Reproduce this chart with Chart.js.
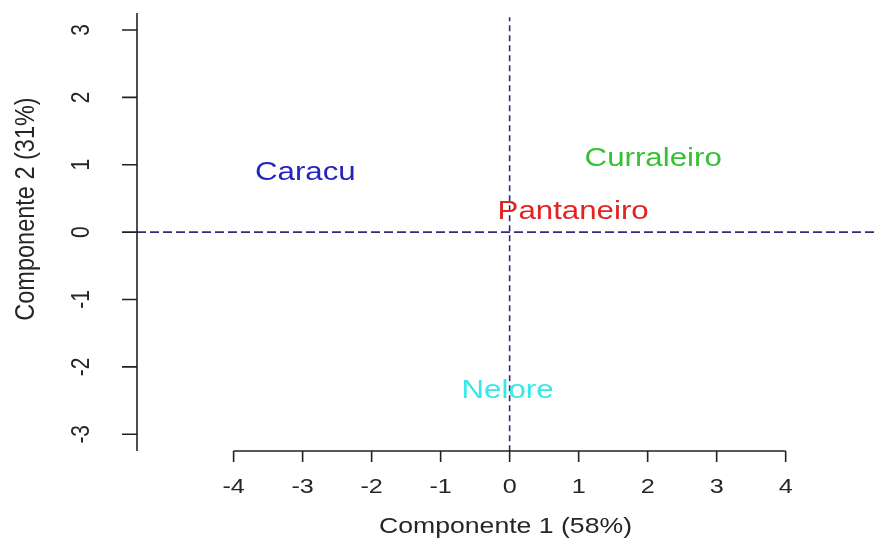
<!DOCTYPE html>
<html>
<head>
<meta charset="utf-8">
<title>Componentes principais</title>
<script src="https://cdn.jsdelivr.net/npm/chart.js@4.4.1/dist/chart.umd.min.js"></script>
<style>
  html, body { margin: 0; padding: 0; background: #ffffff; }
  #wrap { width: 874px; height: 540px; }
</style>
</head>
<body>
<div id="wrap"><canvas id="pcaChart" width="874" height="540"></canvas></div>
<script>
// Breeds and their scores on the two components
const breeds = ['Caracu', 'Curraleiro', 'Pantaneiro', 'Nelore'];
const comp1 = [-2.96, 2.08, 0.92, -0.03];
const comp2 = [0.88, 1.09, 0.29, -2.36];
const breedColors = ['#2424c0', '#36c036', '#e02424', '#36e8e8'];

// Axis ticks
const xTicks = [-4, -3, -2, -1, 0, 1, 2, 3, 4];
const yTicks = [-3, -2, -1, 0, 1, 2, 3];

const xTitle = 'Componente 1 (58%)';
const yTitle = 'Componente 2 (31%)';

const FONT = '"Liberation Sans", Arial, sans-serif';
const AXIS_COLOR = '#222222';

// Draw text stretched horizontally (the source picture is wider than tall)
function stretchedText(ctx, text, x, y, size, sx, rotate) {
    ctx.save();
    ctx.translate(x, y);
    ctx.scale(sx, 1);
    if (rotate) ctx.rotate(-Math.PI / 2);
    ctx.font = size + 'px ' + FONT;
    ctx.textAlign = 'center';
    ctx.textBaseline = 'middle';
    ctx.fillText(text, 0, 0);
    ctx.restore();
}

// R-style axes: line from first to last tick, ticks outward
const rAxes = {
    id: 'rAxes',
    afterDraw(chart) {
        const ctx = chart.ctx;
        const xs = chart.scales.x;
        const ys = chart.scales.y;
        const area = chart.chartArea;
        ctx.save();
        ctx.strokeStyle = AXIS_COLOR;
        ctx.fillStyle = '#262626';
        ctx.lineWidth = 1.6;

        // x axis
        const xAxisY = area.bottom;
        ctx.beginPath();
        ctx.moveTo(xs.getPixelForValue(xTicks[0]), xAxisY);
        ctx.lineTo(xs.getPixelForValue(xTicks[xTicks.length - 1]), xAxisY);
        xTicks.forEach(t => {
            const px = xs.getPixelForValue(t);
            ctx.moveTo(px, xAxisY);
            ctx.lineTo(px, xAxisY + 11);
        });
        ctx.stroke();
        xTicks.forEach(t => {
            stretchedText(ctx, String(t), xs.getPixelForValue(t), xAxisY + 36, 21, 1.2, false);
        });

        // y axis (spans the whole plot height)
        const yAxisX = area.left;
        ctx.beginPath();
        ctx.moveTo(yAxisX, area.top);
        ctx.lineTo(yAxisX, area.bottom);
        yTicks.forEach(t => {
            const py = ys.getPixelForValue(t);
            ctx.moveTo(yAxisX, py);
            ctx.lineTo(yAxisX - 15, py);
        });
        ctx.stroke();
        yTicks.forEach(t => {
            stretchedText(ctx, String(t), yAxisX - 55, ys.getPixelForValue(t), 21, 1.2, true);
        });

        // titles
        stretchedText(ctx, xTitle, (area.left + area.right) / 2, area.bottom + 76, 22, 1.21, false);
        stretchedText(ctx, yTitle, 27, 209, 23.5, 1.15, true);
        ctx.restore();
    }
};

// Breed names written at their points
const pointLabels = {
    id: 'pointLabels',
    afterDatasetsDraw(chart) {
        const ctx = chart.ctx;
        const meta = chart.getDatasetMeta(2);
        ctx.save();
        meta.data.forEach((pt, i) => {
            ctx.fillStyle = breedColors[i];
            stretchedText(ctx, breeds[i], pt.x, pt.y, 25, 1.25, false);
        });
        ctx.restore();
    }
};

const ctx = document.getElementById('pcaChart').getContext('2d');
new Chart(ctx, {
    type: 'scatter',
    data: {
        datasets: [
            {
                // horizontal reference line at y = 0
                data: [{ x: -5.4, y: 0 }, { x: 5.28, y: 0 }],
                showLine: true,
                borderColor: '#2e2e7e',
                borderWidth: 1.6,
                borderDash: [9, 4],
                pointRadius: 0
            },
            {
                // vertical reference line at x = 0
                data: [{ x: 0, y: -3.25 }, { x: 0, y: 3.19 }],
                showLine: true,
                borderColor: '#2e2e7e',
                borderWidth: 1.6,
                borderDash: [6, 4],
                pointRadius: 0
            },
            {
                data: breeds.map((b, i) => ({ x: comp1[i], y: comp2[i] })),
                pointRadius: 0,
                showLine: false
            }
        ]
    },
    options: {
        responsive: false,
        animation: false,
        layout: { padding: { left: 137, right: 0, top: 13, bottom: 89 } },
        plugins: {
            legend: { display: false },
            tooltip: { enabled: false },
            title: { display: false }
        },
        scales: {
            x: { type: 'linear', min: -5.4, max: 5.28, display: false },
            y: { type: 'linear', min: -3.248, max: 3.252, display: false }
        }
    },
    plugins: [rAxes, pointLabels]
});
</script>
</body>
</html>
